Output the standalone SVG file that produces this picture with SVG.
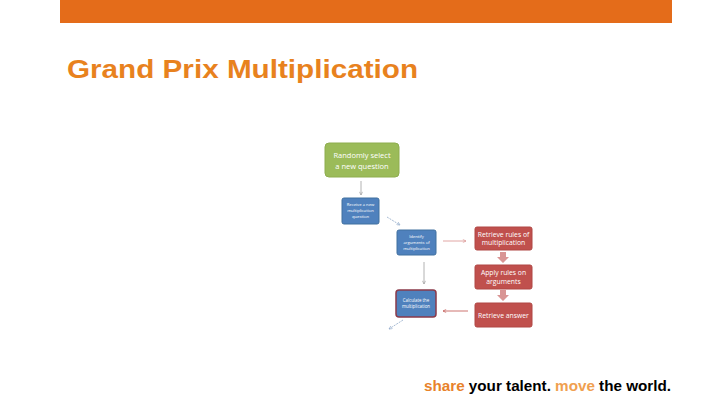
<svg xmlns="http://www.w3.org/2000/svg" width="720" height="405" viewBox="0 0 720 405">
<defs>
<style>
.box{stroke-width:1}
.green{fill:#9BBB59;stroke:#8EAD4F}
.blue{fill:#4F81BD;stroke:#41709F}
.red{fill:#C0504D;stroke:#B04744}
.t{font-family:"Open Sans","Liberation Sans",sans-serif;fill:#FFFFFF;text-anchor:middle}
.conn{fill:none;stroke-width:0.8}
</style>
<marker id="ag" viewBox="0 0 10 10" refX="9" refY="5" markerWidth="5" markerHeight="5" orient="auto"><path d="M1,1 L9,5 L1,9" fill="none" stroke="#9A9A9A" stroke-width="1.5"/></marker>
<marker id="ab" viewBox="0 0 10 10" refX="9" refY="5" markerWidth="5" markerHeight="5" orient="auto"><path d="M1,1 L9,5 L1,9" fill="none" stroke="#8FA8C8" stroke-width="1.5"/></marker>
<marker id="ar" viewBox="0 0 10 10" refX="9" refY="5" markerWidth="5" markerHeight="5" orient="auto"><path d="M1,1 L9,5 L1,9" fill="none" stroke="#D9908E" stroke-width="1.5"/></marker>
<marker id="ard" viewBox="0 0 10 10" refX="9" refY="5" markerWidth="5" markerHeight="5" orient="auto"><path d="M1,1 L9,5 L1,9" fill="none" stroke="#C0504D" stroke-width="1.5"/></marker>
</defs>
<rect x="60" y="0" width="612" height="23" fill="#E46C1A"/>
<text x="67" y="78" font-family="Liberation Sans, Arial, sans-serif" font-weight="bold" font-size="26" fill="#E8821E" textLength="351" lengthAdjust="spacingAndGlyphs">Grand Prix Multiplication</text>

<g id="n-random">
<rect class="box green" x="325" y="143" width="74" height="34" rx="4"/>
<text class="t" x="362" y="158" font-size="7.5">Randomly select</text>
<text class="t" x="362" y="169" font-size="7.5">a new question</text>
</g>
<g id="n-receive">
<rect class="box blue" x="342" y="198" width="37" height="26" rx="2"/>
<text class="t" x="360.5" y="206" font-size="4.2">Receive a new</text>
<text class="t" x="360.5" y="212" font-size="4.2">multiplication</text>
<text class="t" x="360.5" y="218" font-size="4.2">question</text>
</g>
<g id="n-identify">
<rect class="box blue" x="397" y="230" width="39" height="25" rx="2"/>
<text class="t" x="416.5" y="238" font-size="4.2">Identify</text>
<text class="t" x="416.5" y="244" font-size="4.2">arguments of</text>
<text class="t" x="416.5" y="250" font-size="4.2">multiplication</text>
</g>
<g id="n-calculate">
<rect x="396" y="290" width="40" height="27" rx="3" fill="#4F81BD" stroke="#8B3A4A" stroke-width="1.5"/>
<text class="t" x="416" y="302" font-size="4.4">Calculate the</text>
<text class="t" x="416" y="308" font-size="4.4">multiplication</text>
</g>
<g id="n-rules">
<rect class="box red" x="475" y="227" width="57" height="23" rx="2"/>
<text class="t" x="503.5" y="237" font-size="6.8">Retrieve rules of</text>
<text class="t" x="503.5" y="245" font-size="6.8">multiplication</text>
</g>
<g id="n-apply">
<rect class="box red" x="475" y="265" width="57" height="24" rx="2"/>
<text class="t" x="503.5" y="275" font-size="6.8">Apply rules on</text>
<text class="t" x="503.5" y="283.5" font-size="6.8">arguments</text>
</g>
<g id="n-answer">
<rect class="box red" x="475" y="303" width="57" height="24" rx="2"/>
<text class="t" x="503.5" y="317.5" font-size="6.8">Retrieve answer</text>
</g>

<g id="connectors">
<line class="conn" x1="361" y1="181" x2="361" y2="195" stroke="#A0A0A0" marker-end="url(#ag)"/>
<line class="conn" x1="387" y1="217" x2="400" y2="225" stroke="#8FA8C8" stroke-dasharray="2,1" marker-end="url(#ab)"/>
<line class="conn" x1="443" y1="241" x2="466" y2="241" stroke="#D9908E" marker-end="url(#ar)"/>
<line class="conn" x1="424" y1="262" x2="424" y2="284" stroke="#A0A0A0" marker-end="url(#ag)"/>
<path d="M500,252 h6 v5 h3 l-6,6 l-6,-6 h3 z" fill="#D99594"/>
<path d="M500,290 h6 v5 h3 l-6,6 l-6,-6 h3 z" fill="#D99594"/>
<line class="conn" x1="468" y1="311" x2="443" y2="311" stroke="#C0504D" marker-end="url(#ard)"/>
<line class="conn" x1="403" y1="320" x2="389" y2="329" stroke="#8FA8C8" stroke-dasharray="2,1" marker-end="url(#ab)"/>
</g>

<text x="424" y="391" font-family="Liberation Sans, Arial, sans-serif" font-weight="bold" font-size="14.5" fill="#000000" textLength="247" lengthAdjust="spacingAndGlyphs"><tspan fill="#E8822A">share</tspan> your talent. <tspan fill="#F0A050">move</tspan> the world.</text>
</svg>
